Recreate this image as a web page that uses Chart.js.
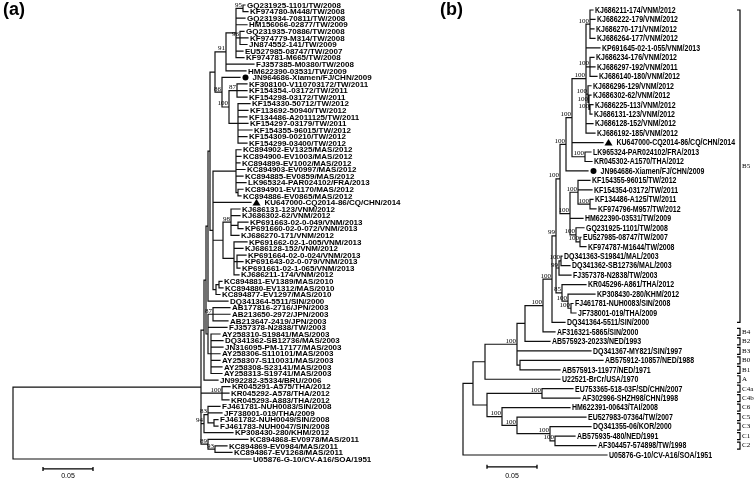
<!DOCTYPE html>
<html>
<head>
<meta charset="utf-8">
<script src="https://cdn.jsdelivr.net/npm/chart.js@4.4.1/dist/chart.umd.min.js"></script>
<style>
body { margin: 0; background: #fff; }
#wrap { position: relative; width: 754px; height: 479px; overflow: hidden; }
canvas { position: absolute; top: 0; }
</style>
</head>
<body>
<div id="wrap">
  <canvas id="chartA" width="430" height="479" style="left:0"></canvas>
  <canvas id="chartB" width="377" height="479" style="left:377px"></canvas>
</div>
<script>
// trees in newick, branch lengths in substitutions/site, bootstrap on inner nodes
var newickA = [
  '((((((',
  '(',
  '(((GQ231925-1101/TW/2008:0.002,KF974780-M448/TW/2008:0.005)95:0.007,GQ231934-70811/TW/2008:0.009,HM156066-02877/TW/2009:0.011,',
  '(GQ231935-70886/TW/2008:0.004,KF974779-M314/TW/2008:0.008,JN874552-141/TW/2009:0.007)96:0.004,EU527985-08747/TW/2007:0.007,KF974781-M665/TW/2008:0.008):0.010,',
  'FJ357385-M0380/TW/2008:0.028,HM622390-03531/TW/2009:0.020)91:0.011,',
  '(JN964686-Xiamen/FJ/CHN/2009:0.018,((KF308100-V110703172/TW/2011:0.010,KF154354.-03172/TW/2011:0.010,KF154298-03172/TW/2011:0.010)87:0.008,',
  '(KF154330-50712/TW/2012:0.012,KF113692-50940/TW/2012:0.010,KF134486-A2011125/TW/2011:0.009,KF154297-03179/TW/2011:0.010,KF154355-96015/TW/2012:0.014,KF154309-00210/TW/2012:0.009,KF154299-03400/TW/2012:0.009):0.009)100:0.007)86:0.007',
  '):0.005,',
  '(',
  '(KC894902-EV1325/MAS/2012:0.005,KC894900-EV1003/MAS/2012:0.005,KC894899-EV1002/MAS/2012:0.004,KC894903-EV0997/MAS/2012:0.009,KC894885-EV0859/MAS/2012:0.007,LK965324-PAR024102/FRA/2013:0.010,(KC894901-EV1170/MAS/2012:0.005,KC894886-EV0865/MAS/2012:0.003):0.002):0.023,',
  'KU647000-CQ2014-86/CQ/CHN/2014:0.038,',
  '((KJ686131-123/VNM/2012:0.009,KJ686302-62/VNM/2012:0.009,(KP691663-02-0-049/VNM/2013:0.010,KP691660-02-0-072/VNM/2013:0.005):0.007,KJ686270-171/VNM/2012:0.008)98:0.008,',
  '(KP691662-02-1-005/VNM/2013:0.013,KJ686128-152/VNM/2012:0.009,(KP691664-02-0-024/VNM/2013:0.009,KP691643-02-0-079/VNM/2013:0.006,KP691661-02-1-065/VNM/2013:0.003):0.003,KJ686211-174/VNM/2012:0.005):0.011):0.010,',
  '((KC894881-EV1389/MAS/2010:0.003,KC894880-EV1312/MAS/2010:0.004):0.003,KC894877-EV1297/MAS/2010:0.004):0.003',
  '):0.003',
  '):0.002,',
  'DQ341364-5511/SIN/2000:0.020):0.002,',
  '((AB177816-2716/JPN/2003:0.017,AB213650-2972/JPN/2003:0.017,AB213647-2419/JPN/2003:0.015)87:0.005,FJ357378-N2838/TW/2003:0.019,',
  '(AY258310-S19841/MAS/2003:0.009,DQ341362-SB12736/MAS/2003:0.012,JN316095-PM-17177/MAS/2003:0.012,AY258306-S110101/MAS/2003:0.009,AY258307-S110031/MAS/2003:0.009,AY258308-S23141/MAS/2003:0.011,AY258313-S19741/MAS/2003:0.011):0.003):0.002',
  '):0.002,',
  'JN992282-35334/BRU/2006:0.014):0.003,',
  '(KR045291-A575/THA/2012:0.008,KR045292-A578/THA/2012:0.007,KR045293-A883/THA/2012:0.007)100:0.021,',
  '((FJ461781-NUH0083/SIN/2008:0.012,JF738001-019/THA/2009:0.014,(FJ461782-NUH0049/SIN/2008:0.004,FJ461783-NUH0047/SIN/2008:0.004):0.006)83:0.004,KP308430-280/KHM/2012:0.029)94:0.003,',
  '(KC894868-EV0978/MAS/2011:0.040,(KC894869-EV0984/MAS/2011:0.012,KC894867-EV1268/MAS/2011:0.017)93:0.007)89:0.007',
  '):0.188,',
  'U05876-G-10/CV-A16/SOA/1951:0.238);'
];

var newickB = [
  '((((',
  '((((',
  '(',
  '(',
  '(',
  '((KJ686211-174/VNM/2012:0.003,KJ686222-179/VNM/2012:0.005,KJ686270-171/VNM/2012:0.004,KJ686264-177/VNM/2012:0.005)100:0.004,KP691645-02-1-055/VNM/2013:0.014,',
  '(KJ686234-176/VNM/2012:0.004,KJ686297-192/VNM/2011:0.005,KJ686140-180/VNM/2012:0.007)100:0.004,',
  '(KJ686296-129/VNM/2012:0.003,(KJ686302-62/VNM/2012:0.002,(KJ686225-113/VNM/2012:0.003,KJ686131-123/VNM/2012:0.002)100:0.001)100:0.001)100:0.002,',
  'KJ686128-152/VNM/2012:0.007,KJ686192-185/VNM/2012:0.009)100:0.014,',
  'KU647000-CQ2014-86/CQ/CHN/2014:0.031,',
  '(LK965324-PAR024102/FRA/2013:0.006,KR045302-A1570/THA/2012:0.007)100:0.013',
  ')100:0.006,',
  'JN964686-Xiamen/FJ/CHN/2009:0.022',
  ')100:0.006,',
  '((KF154355-96015/TW/2012:0.012,KF154354-03172/TW/2011:0.014,(KF134486-A125/TW/2011:0.003,KF974796-M957/TW/2012:0.006)100:0.012)100:0.008,',
  'HM622390-03531/TW/2009:0.013,',
  '(GQ231925-1101/TW/2008:0.008,(EU527985-08747/TW/2007:0.001,KF974787-M1644/TW/2008:0.006)100:0.004)100:0.006)100:0.010',
  ')100:0.004,',
  '((DQ341363-S19841/MAL/2003:0.001,DQ341362-SB12736/MAL/2003:0.009)100:0.002,FJ357378-N2838/TW/2003:0.012)99:0.003,',
  '(KR045296-A861/THA/2012:0.024,(KP308430-280/KHM/2012:0.027,(FJ461781-NUH0083/SIN/2008:0.002,JF738001-019/THA/2009:0.005)100:0.003)100:0.006)85:0.006',
  ')99:0.004,',
  'DQ341364-5511/SIN/2000:0.013)100:0.009,',
  'AF316321-5865/SIN/2000:0.012)100:0.018,',
  'AB575923-20233/NED/1993:0.025):0.008,',
  'DQ341367-MY821/SIN/1997:0.074,',
  '(AB575912-10857/NED/1988:0.083,AB575913-11977/NED/1971:0.040):0.003',
  ')100:0.032,',
  'U22521-BrCr/USA/1970:0.075):0.012,',
  '((EU753365-518-03F/SD/CHN/2007:0.031,AF302996-SHZH98/CHN/1998:0.038)100:0.055,',
  '(HM622391-00643/TAI/2008:0.068,(EU527983-07364/TW/2007:0.069,(DQ341355-06/KOR/2000:0.041,(AB575935-480/NED/1991:0.020,AF304457-574898/TW/1998:0.041)100:0.005)100:0.033)100:0.015)100:0.015',
  '):0.014',
  '):0.010,',
  'U05876-G-10/CV-A16/SOA/1951:0.144);'
];

var circleTaxa = ['JN964686-Xiamen/FJ/CHN/2009'];
var triangleTaxa = ['KU647000-CQ2014-86/CQ/CHN/2014'];

// genotype brackets of panel b (leaf index, top to bottom)
var cladeNames = ['B5', 'B4', 'B2', 'B3', 'B0', 'B1', 'A', 'C4a', 'C4b', 'C6', 'C5', 'C3', 'C1', 'C2'];
var cladeFirst = [0, 34, 35, 36, 37, 38, 39, 40, 41, 42, 43, 44, 45, 46];
var cladeLast  = [33, 34, 35, 36, 37, 38, 39, 40, 41, 42, 43, 44, 45, 46];

var scaleBar = 0.05;

var styleA = {
  letter: '(a)', letterX: 3, letterY: 1,
  rootPx: 13, unitPx: 1000, firstRowPx: 5, rowPx: 6.58,
  leafFont: 'bold 8px "Liberation Sans", Arial, sans-serif', textScale: 1,
  bootFont: '7px "Liberation Serif", serif',
  scaleFrom: 0.030, scaleRow: 70.5, scaleLabelGap: 7
};
var styleB = {
  letter: '(b)', letterX: 63, letterY: 1,
  rootPx: 86, unitPx: 1000, firstRowPx: 10, rowPx: 9.468,
  leafFont: 'bold 8.5px "Liberation Sans", Arial, sans-serif', textScale: 0.82,
  bootFont: '7px "Liberation Serif", serif',
  scaleFrom: 0.024, scaleRow: 48.25, scaleLabelGap: 9,
  bracketX: 363
};

function parseNewick(s) {
  var i = 0;
  function node() {
    var n = { children: [], name: '', len: 0 };
    if (s[i] === '(') {
      i++;
      n.children.push(node());
      while (s[i] === ',') { i++; n.children.push(node()); }
      i++;
    }
    var lab = '';
    while (i < s.length && ',():;'.indexOf(s[i]) < 0) lab += s[i++];
    n.name = lab.trim();
    if (s[i] === ':') {
      i++;
      var num = '';
      while (i < s.length && ',();'.indexOf(s[i]) < 0) num += s[i++];
      n.len = parseFloat(num);
    }
    return n;
  }
  return node();
}

function buildTree(str) {
  var root = parseNewick(str);
  var leaves = [], inner = [], segs = [];
  (function walk(n, d) {
    n.x = d + n.len;
    if (!n.children.length) { n.y = leaves.length; leaves.push(n); return; }
    n.children.forEach(function (c) { walk(c, n.x); });
    n.y = (n.children[0].y + n.children[n.children.length - 1].y) / 2;
    inner.push(n);
  })(root, 0);
  inner.forEach(function (n) {
    var a = n.children[0], b = n.children[n.children.length - 1];
    segs.push({ x: n.x, y: a.y }, { x: n.x, y: b.y }, { x: n.x, y: null });
    n.children.forEach(function (c) {
      segs.push({ x: n.x, y: c.y }, { x: c.x, y: c.y }, { x: c.x, y: null });
    });
  });
  return { leaves: leaves, inner: inner, segs: segs };
}

function treeText(t, st) {
  return {
    id: 'treeText',
    afterDatasetsDraw: function (chart) {
      var ctx = chart.ctx, sx = chart.scales.x, sy = chart.scales.y;
      var px = function (v) { return sx.getPixelForValue(v); };
      var py = function (v) { return sy.getPixelForValue(v); };
      ctx.save();
      ctx.fillStyle = '#000';
      ctx.strokeStyle = '#000';

      // bootstrap
      ctx.font = st.bootFont;
      ctx.textAlign = 'right';
      ctx.textBaseline = 'alphabetic';
      t.inner.forEach(function (n) {
        if (n.name) ctx.fillText(n.name, px(n.x) - 1, py(n.y) - 1.5);
      });

      // taxa
      ctx.textAlign = 'left';
      ctx.textBaseline = 'middle';
      t.leaves.forEach(function (n) {
        var x = px(n.x), y = py(n.y), tx = x + 2;
        if (circleTaxa.indexOf(n.name) >= 0) {
          ctx.beginPath(); ctx.arc(x + 5.5, y, 3, 0, Math.PI * 2); ctx.fill();
          tx = x + 12.5;
        }
        if (triangleTaxa.indexOf(n.name) >= 0) {
          ctx.beginPath();
          ctx.moveTo(x + 5.5, y - 3.5); ctx.lineTo(x + 9.5, y + 3); ctx.lineTo(x + 1.5, y + 3);
          ctx.closePath(); ctx.fill();
          tx = x + 13.5;
        }
        ctx.save();
        ctx.translate(tx, y + 0.5);
        ctx.scale(st.textScale, 1);
        ctx.font = st.leafFont;
        ctx.fillText(n.name, 0, 0);
        ctx.restore();
      });

      // scale bar
      var y0 = py(st.scaleRow), x0 = px(st.scaleFrom), x1 = px(st.scaleFrom + scaleBar);
      ctx.lineWidth = 1.3;
      ctx.beginPath();
      ctx.moveTo(x0, y0); ctx.lineTo(x1, y0);
      ctx.moveTo(x0, y0 - 2); ctx.lineTo(x0, y0 + 2);
      ctx.moveTo(x1, y0 - 2); ctx.lineTo(x1, y0 + 2);
      ctx.stroke();
      ctx.font = '7px "Liberation Sans", sans-serif';
      ctx.textAlign = 'center';
      ctx.fillText(String(scaleBar), (x0 + x1) / 2, y0 + st.scaleLabelGap);

      // genotype brackets
      if (st.bracketX) {
        ctx.lineWidth = 1.2;
        ctx.textAlign = 'left';
        ctx.font = '7px "Liberation Serif", serif';
        cladeNames.forEach(function (name, i) {
          var ya = py(cladeFirst[i]), yb = py(cladeLast[i]);
          if (cladeFirst[i] === cladeLast[i]) { ya -= 3.5; yb += 3.5; }
          var bx = st.bracketX;
          ctx.beginPath();
          ctx.moveTo(bx - 3, ya); ctx.lineTo(bx, ya); ctx.lineTo(bx, yb); ctx.lineTo(bx - 3, yb);
          ctx.stroke();
          ctx.fillText(name, bx + 2, (ya + yb) / 2);
        });
      }

      // panel letter
      ctx.font = 'bold 18px "Liberation Sans", Arial, sans-serif';
      ctx.textAlign = 'left';
      ctx.textBaseline = 'top';
      ctx.fillText(st.letter, st.letterX, st.letterY);
      ctx.restore();
    }
  };
}

function drawPanel(id, newick, st) {
  var t = buildTree(newick.join(''));
  var cv = document.getElementById(id);
  var W = cv.width, H = cv.height;
  var xMin = -st.rootPx / st.unitPx;
  var yMin = -st.firstRowPx / st.rowPx;
  return new Chart(cv.getContext('2d'), {
    type: 'scatter',
    data: {
      datasets: [{
        data: t.segs,
        showLine: true,
        spanGaps: false,
        borderColor: '#111',
        borderWidth: 1.2,
        borderCapStyle: 'square',
        pointRadius: 0,
        pointHoverRadius: 0,
        fill: false
      }]
    },
    options: {
      responsive: false,
      animation: false,
      events: [],
      layout: { padding: 0, autoPadding: false },
      plugins: { legend: { display: false }, tooltip: { enabled: false } },
      scales: {
        x: { type: 'linear', display: false, min: xMin, max: xMin + W / st.unitPx },
        y: { type: 'linear', display: false, reverse: true, min: yMin, max: yMin + H / st.rowPx }
      }
    },
    plugins: [treeText(t, st)]
  });
}

window.treeA = drawPanel('chartA', newickA, styleA);
window.treeB = drawPanel('chartB', newickB, styleB);
</script>
</body>
</html>
